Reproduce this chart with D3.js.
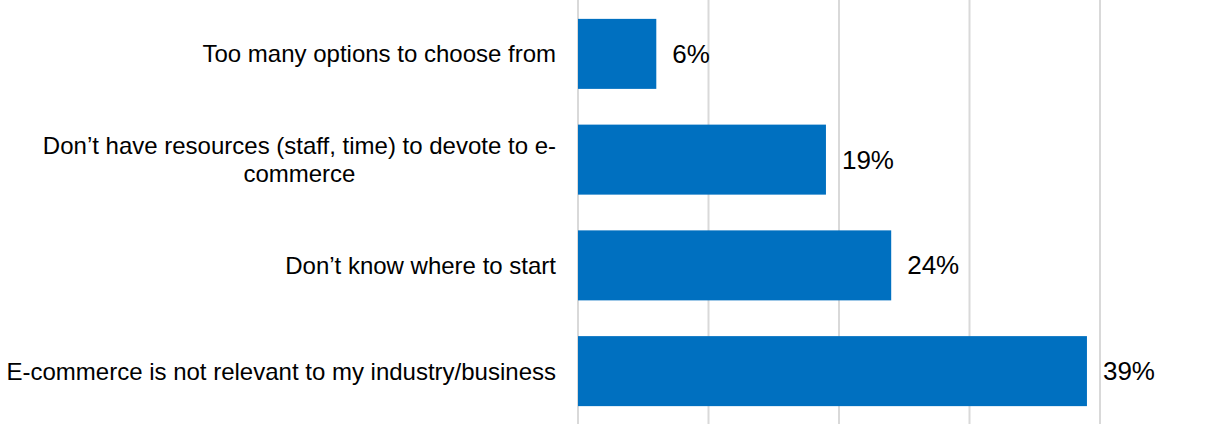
<!DOCTYPE html>
<html>
<head>
<meta charset="utf-8">
<script src="https://cdn.jsdelivr.net/npm/d3@7"></script>
<style>
  body { margin: 0; background: #fff; }
  svg { display: block; font-family: Arial, "Liberation Sans", sans-serif; }
</style>
</head>
<body>
<div id="chart"></div>
<script>
// chart data
const categories = [
    ["Too many options to choose from"],
    ["Don\u2019t have resources (staff, time) to devote to e-", "commerce"],
    ["Don\u2019t know where to start"],
    ["E-commerce is not relevant to my industry/business"]
];
const values = [6, 19, 24, 39];
const gridTicks = [0, 10, 20, 30, 40];

let width = 1231, height = 424;
let margin = { top: 1, bottom: 0, left: 578, right: 131 };

let svg = d3.select('#chart')
        .append('svg')
        .attr('width', width)
        .attr('height', height);

let xScale = d3.scaleLinear()
        .domain([0, 40])
        .range([margin.left, width - margin.right]);

let yScale = d3.scaleBand()
        .domain(d3.range(categories.length))
        .range([margin.top, height - margin.bottom])
        .paddingInner(0.338)
        .paddingOuter(0.169);

// vertical gridlines
svg.append('g')
    .selectAll('line')
    .data(gridTicks)
    .enter()
    .append('line')
    .attr('x1', d => xScale(d))
    .attr('x2', d => xScale(d))
    .attr('y1', 0)
    .attr('y2', height)
    .attr('stroke', '#d9d9d9')
    .attr('stroke-width', 2);

// bars
svg.append('g')
    .selectAll('rect')
    .data(values)
    .enter()
    .append('rect')
    .attr('x', xScale(0))
    .attr('y', (d, i) => yScale(i))
    .attr('width', d => xScale(d) - xScale(0))
    .attr('height', yScale.bandwidth())
    .attr('fill', '#0070c0');

// value labels
svg.append('g')
    .selectAll('text')
    .data(values)
    .enter()
    .append('text')
    .attr('x', d => xScale(d) + 16)
    .attr('y', (d, i) => yScale(i) + yScale.bandwidth() / 2)
    .attr('dy', '0.35em')
    .style('font-size', '26px')
    .style('fill', '#000')
    .text(d => d + '%');

// category labels
let labels = svg.append('g')
    .selectAll('text')
    .data(categories)
    .enter()
    .append('text')
    .style('font-size', '24px')
    .style('fill', '#000')
    .attr('transform', (d, i) => `translate(0, ${yScale(i) + yScale.bandwidth() / 2})`);

labels.selectAll('tspan')
    .data(d => d.map((t, j) => ({ t: t, j: j, n: d.length })))
    .enter()
    .append('tspan')
    .attr('x', 556)
    .attr('text-anchor', d => d.n > 1 ? 'middle' : 'end')
    .attr('y', d => (d.j - (d.n - 1) / 2) * 28)
    .attr('dy', '0.35em')
    .text(d => d.t);

// centre multi-line labels on the widest line
labels.each(function(d) {
    if (d.length < 2) return;
    let spans = d3.select(this).selectAll('tspan');
    let w = d3.max(spans.nodes(), n => n.getComputedTextLength());
    spans.attr('x', 556 - w / 2);
});
</script>
</body>
</html>
